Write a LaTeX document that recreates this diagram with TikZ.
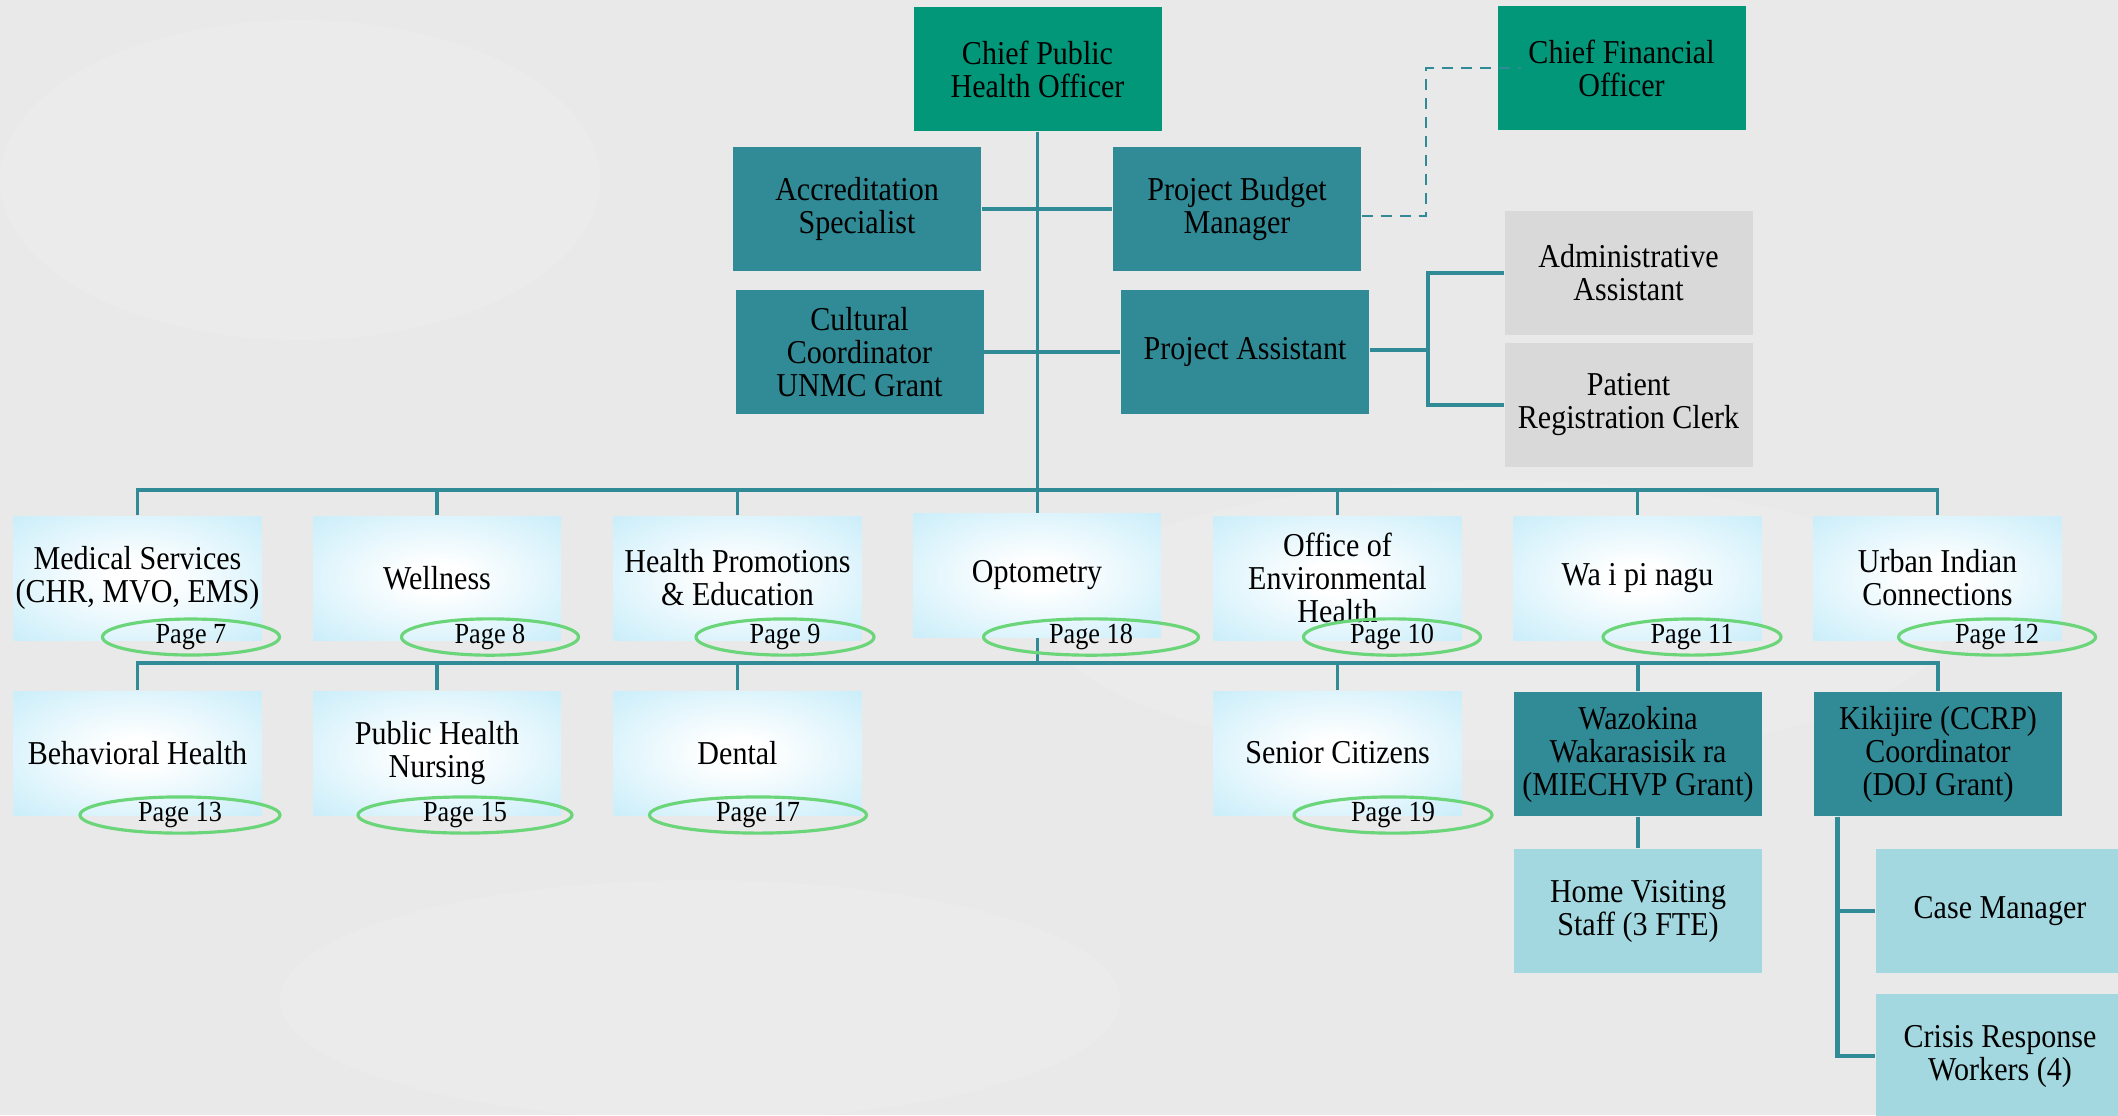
\documentclass[tikz,border=0pt]{standalone}
\usepackage{fontspec}
\setmainfont[FakeStretch=0.9]{Liberation Serif}
\usetikzlibrary{shapes.geometric,calc}
\definecolor{bgc}{HTML}{E9E9E9}
\definecolor{grn}{HTML}{03977A}
\definecolor{tealbox}{HTML}{318B96}
\definecolor{gry}{HTML}{D9D9D9}
\definecolor{lblue}{HTML}{C2EBF9}
\definecolor{lteal}{HTML}{A3D8E0}
\definecolor{ovl}{HTML}{6BD57A}
\definecolor{ln}{HTML}{318B96}
\pgfdeclareradialshading{boxrad}{\pgfpoint{0bp}{0bp}}{color(0bp)=(white); color(6bp)=(white); color(40bp)=(lblue); color(100bp)=(lblue)}
\pgfdeclarelayer{bglayer}
\pgfdeclarelayer{linelayer}
\pgfsetlayers{bglayer,linelayer,main}
\begin{document}
\begin{tikzpicture}[x=0.1mm,y=-0.1mm,
 every node/.style={font=\fontsize{9.5}{9.4}\selectfont, text=black},
 box/.style={rectangle, minimum width=24.8mm, minimum height=12.4mm, inner sep=0pt, align=center},
 topbox/.style={box, fill=grn},
 tbox/.style={box, fill=tealbox},
 gbox/.style={box, fill=gry},
 sbox/.style={box, shading=boxrad},
 lbox/.style={box, fill=lteal},
 pg/.style={ellipse, draw=ovl, line width=0.9pt, minimum height=3.6mm, inner sep=0pt, font=\fontsize{8.3}{8.3}\selectfont},
 conn/.style={draw=ln, line width=1pt},
 dsh/.style={draw=ln, line width=0.75pt, dash pattern=on 1.1mm off 0.8mm},
]
\useasboundingbox (0,0) rectangle (2118,1115);
\clip (0,0) rectangle (2118,1115);
\begin{pgfonlayer}{bglayer}
\fill[bgc] (0,0) rectangle (2118,1115);
\fill[white,opacity=0.12] (300,180) ellipse (300 and 160);
\fill[white,opacity=0.1] (1500,620) ellipse (450 and 140);
\fill[white,opacity=0.1] (700,1000) ellipse (420 and 120);
\end{pgfonlayer}

% top level
\node[topbox] (cpho) at (1037.5,69) {Chief Public\\Health Officer};
\node[topbox] (cfo) at (1621.5,68) {Chief Financial\\Officer};
\node[tbox] (acc) at (857,209) {Accreditation\\Specialist};
\node[tbox] (pbm) at (1237,209) {Project Budget\\Manager};
\node[tbox] (cul) at (859.5,352) {Cultural\\Coordinator\\UNMC Grant};
\node[tbox] (pa) at (1245,352) {Project Assistant};
\node[gbox] (adm) at (1628.5,273) {Administrative\\Assistant};
\node[gbox] (prc) at (1628.5,405) {Patient\\Registration Clerk};

% row 1
\node[sbox] (med) at (137.5,578) {Medical Services\\(CHR, MVO, EMS)};
\node[sbox] (wel) at (437,578) {Wellness};
\node[sbox] (hpe) at (737.5,578) {Health Promotions\\\& Education};
\node[sbox] (opt) at (1037,575) {Optometry};
\node[sbox] (oeh) at (1337.5,578) {Office of\\Environmental\\Health};
\node[sbox] (wai) at (1637.5,578) {Wa i pi nagu};
\node[sbox] (uic) at (1937.5,578) {Urban Indian\\Connections};

\node[pg, minimum width=17.7mm] (p7) at (191,637) {Page 7};
\node[pg, minimum width=17.7mm] (p8) at (490,637) {Page 8};
\node[pg, minimum width=17.8mm] (p9) at (785,637) {Page 9};
\node[pg, minimum width=21.5mm] (p18) at (1091,637) {Page 18};
\node[pg, minimum width=17.7mm] (p10) at (1392,637) {Page 10};
\node[pg, minimum width=17.8mm] (p11) at (1692,637) {Page 11};
\node[pg, minimum width=19.7mm] (p12) at (1997,637) {Page 12};

% row 2
\node[sbox] (beh) at (137.5,753) {Behavioral Health};
\node[sbox] (phn) at (437,753) {Public Health\\Nursing};
\node[sbox] (den) at (737.5,753) {Dental};
\node[sbox] (sen) at (1337.5,753) {Senior Citizens};
\node[tbox] (waz) at (1638,754) {Wazokina\\Wakarasisik ra\\(MIECHVP Grant)};
\node[tbox] (kik) at (1938,754) {Kikijire (CCRP)\\Coordinator\\(DOJ Grant)};

\node[pg, minimum width=20.0mm] (p13) at (180,815) {Page 13};
\node[pg, minimum width=21.4mm] (p15) at (465,815) {Page 15};
\node[pg, minimum width=21.7mm] (p17) at (758,815) {Page 17};
\node[pg, minimum width=19.8mm] (p19) at (1393,815) {Page 19};

% row 3
\node[lbox] (hvs) at (1638,911) {Home Visiting\\Staff (3 FTE)};
\node[lbox] (cm) at (2000,911) {Case Manager};
\node[lbox] (crw) at (2000,1056) {Crisis Response\\Workers (4)};

\begin{pgfonlayer}{linelayer}
\coordinate (bus1) at (1037,490);
\coordinate (bus2) at (1037,663);
\draw[conn] (cpho.south) -- (cpho.south |- bus2);
\draw[conn] (acc.east) -- (acc.east -| pbm.west);
\draw[conn] (cul.east) -- (cul.east -| pa.west);
\draw[conn] (med.north) -- (med.north |- bus1) -- (uic.north |- bus1) -- (uic.north);
\foreach \n in {wel,hpe,oeh,wai} \draw[conn] (\n.north) -- (\n.north |- bus1);
\draw[conn] (beh.north) -- (beh.north |- bus2) -- (kik.north |- bus2) -- (kik.north);
\foreach \n in {phn,den,sen,waz} \draw[conn] (\n.north) -- (\n.north |- bus2);
\draw[conn] (waz.south) -- (hvs.north);
\coordinate (jpa) at (1428,350);
\draw[conn] (pa.east |- jpa) -- (jpa);
\draw[conn] (adm.west) -- (adm.west -| jpa) -- (prc.west -| jpa) -- (prc.west);
\coordinate (kj) at ($(kik.south west)+(24,0)$);
\draw[conn, line width=1.3pt] (kj) |- (cm.west);
\draw[conn, line width=1.3pt] (kj) |- (crw.west);
\end{pgfonlayer}

\draw[dsh] ($(pbm.east)+(0,7)$) -| ($(cfo.west)+(-71,0)$) -- ($(cfo.west)+(24,0)$);
\end{tikzpicture}
\end{document}
